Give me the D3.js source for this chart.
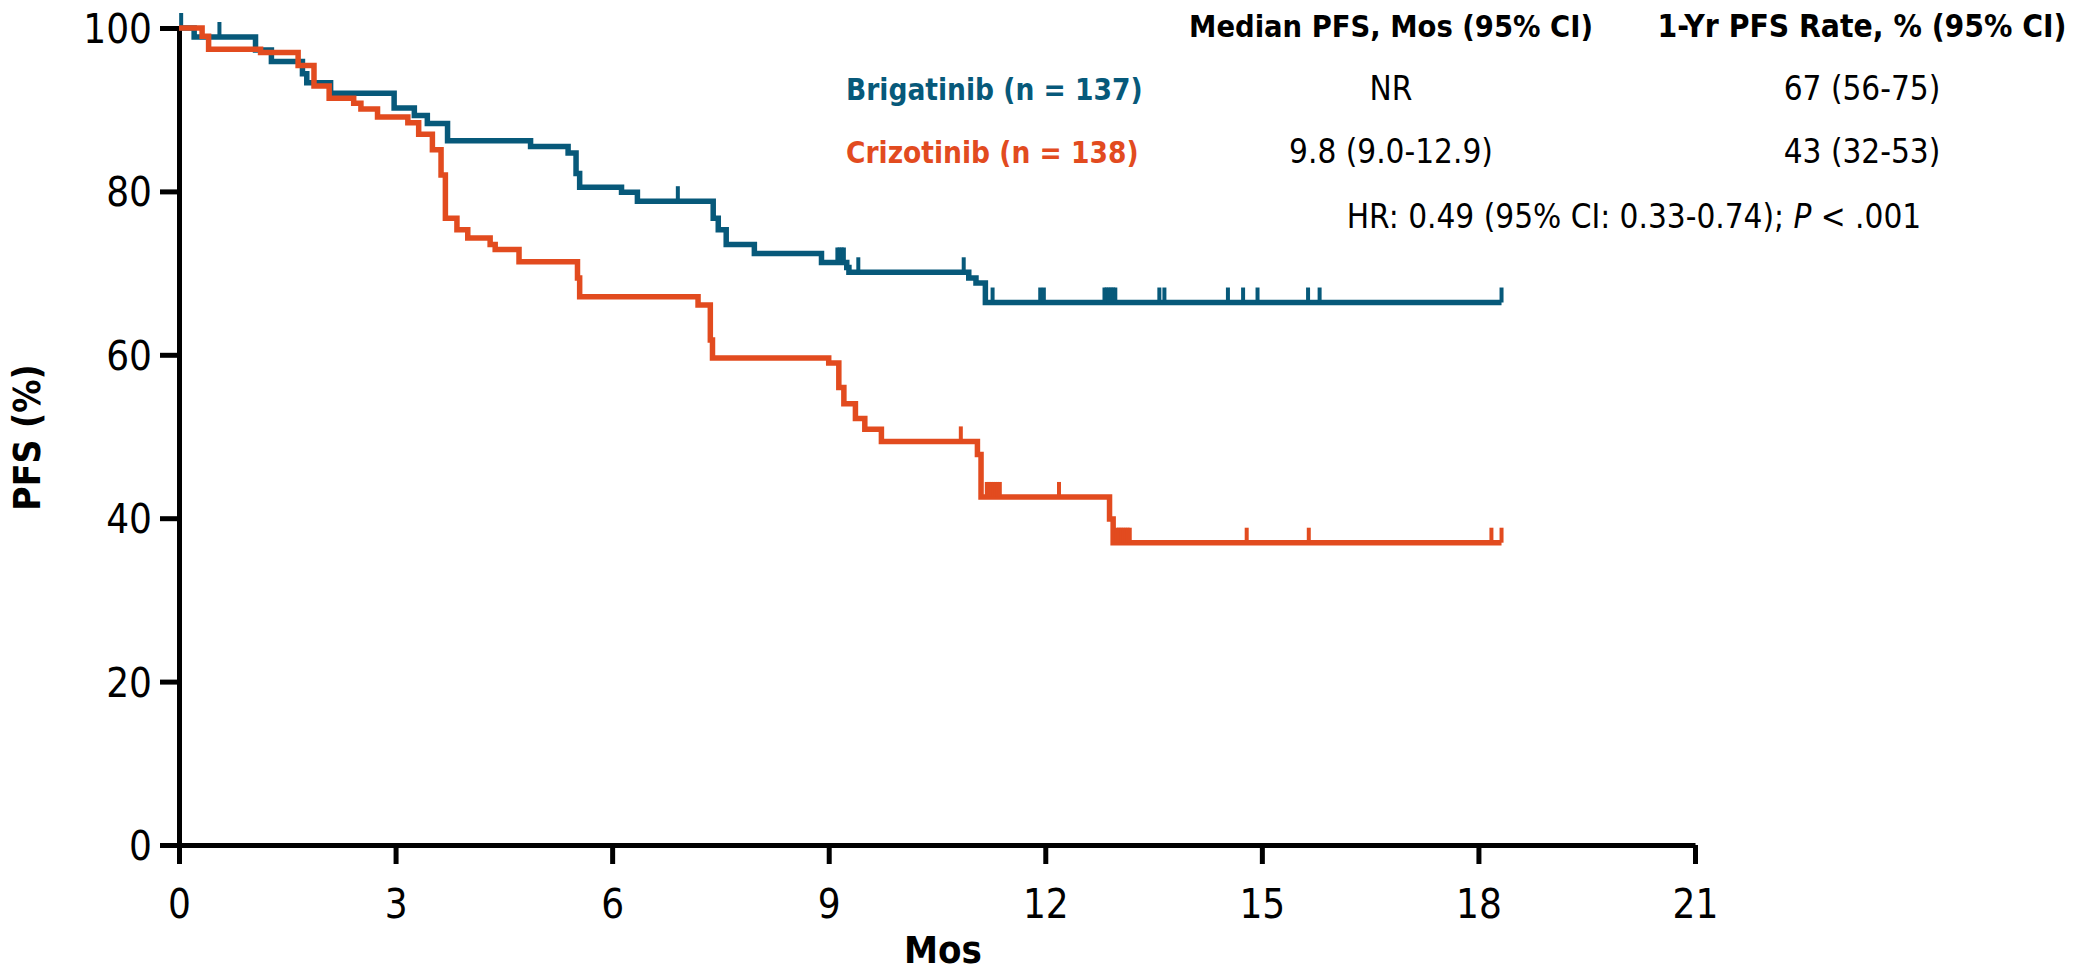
<!DOCTYPE html>
<html>
<head>
<meta charset="utf-8">
<script src="https://cdn.jsdelivr.net/npm/d3@7"></script>
<style>
  body { margin: 0; background: #fff; }
  svg text { font-family: "DejaVu Sans Condensed", "DejaVu Sans", sans-serif; font-stretch: condensed; }
</style>
</head>
<body>
<div id="chart"></div>
<script>
// x / y ticks
const xTicks = [0, 3, 6, 9, 12, 15, 18, 21];
const yTicks = [0, 20, 40, 60, 80, 100];

// Brigatinib: event times (mos) and survival after each step (%)
const brigTimes = [0, 0.21, 1.06, 1.28, 1.71, 1.77, 2.10, 2.98, 3.26, 3.44, 3.72, 4.87, 5.39, 5.50, 5.55,
  6.13, 6.35, 7.40, 7.47, 7.58, 7.97, 8.90, 9.25, 9.28, 10.94, 11.04, 11.17];
const brigSurv = [100, 98.9, 97.3, 95.9, 94.4, 93.3, 92.0, 90.2, 89.3, 88.3, 86.2, 85.5, 84.7, 82.2, 80.5,
  79.9, 78.8, 76.7, 75.3, 73.5, 72.4, 71.3, 70.7, 70.1, 69.4, 68.8, 66.4];
const brigCensor = [0.03, 0.56, 6.91, 9.12, 9.15, 9.18, 9.21, 9.41, 10.87, 11.27, 11.93, 11.98, 12.82, 12.85,
  12.88, 12.91, 12.94, 12.97, 13.58, 13.65, 14.53, 14.74, 14.94, 15.64, 15.80, 18.32];
const brigEnd = 18.32;

// Crizotinib
const crizTimes = [0, 0.32, 0.41, 1.13, 1.65, 1.87, 2.08, 2.42, 2.52, 2.75, 3.17, 3.32, 3.51, 3.63, 3.69,
  3.85, 4.00, 4.31, 4.38, 4.71, 5.52, 5.55, 7.19, 7.36, 7.39, 9.00, 9.14, 9.21, 9.37, 9.50, 9.73,
  11.06, 11.11, 12.89, 12.94];
const crizSurv = [100, 99.0, 97.4, 97.0, 95.4, 92.9, 91.4, 90.8, 90.1, 89.1, 88.4, 87.0, 85.1, 82.0, 76.7,
  75.3, 74.3, 73.5, 72.9, 71.4, 69.4, 67.1, 66.1, 61.8, 59.6, 59.0, 56.0, 54.0, 52.2, 50.9, 49.4,
  47.8, 42.6, 39.9, 37.0];
const crizCensor = [10.83, 11.19, 11.22, 11.25, 11.28, 11.31, 11.34, 11.37, 12.19, 12.99, 13.02, 13.05,
  13.08, 13.11, 13.14, 13.17, 14.79, 15.65, 18.18, 18.32];
const crizEnd = 18.32;

const blue = "#07597a";
const red = "#e24b1f";

const width = 2080, height = 972;
const svg = d3.select("#chart").append("svg")
  .attr("width", width)
  .attr("height", height);

const x = d3.scaleLinear().domain([0, 21]).range([179, 1695]);
const y = d3.scaleLinear().domain([0, 100]).range([845, 28]);

// axes
const xAxis = svg.append("g")
  .attr("transform", `translate(0,${y(0)})`)
  .call(d3.axisBottom(x).tickValues(xTicks).tickSize(19).tickSizeOuter(0).tickPadding(26));
const yAxis = svg.append("g")
  .attr("transform", `translate(${x(0)},0)`)
  .call(d3.axisLeft(y).tickValues(yTicks).tickSize(19).tickSizeOuter(0).tickPadding(8));

[xAxis, yAxis].forEach(a => {
  a.selectAll("path, line").attr("stroke", "#000").attr("stroke-width", 5);
  a.selectAll("text").attr("fill", "#000").style("font-size", "40px");
});
yAxis.selectAll("text").attr("dy", "0.36em");

function stepAt(times, surv, t) {
  let s = surv[0];
  for (let i = 0; i < times.length; i++) if (times[i] <= t) s = surv[i];
  return s;
}

function drawArm(times, surv, censor, end, color) {
  const pts = times.map((t, i) => [t, surv[i]]);
  pts.push([end, surv[surv.length - 1]]);
  const line = d3.line()
    .x(d => x(d[0]))
    .y(d => y(d[1]))
    .curve(d3.curveStepAfter);
  svg.append("path")
    .datum(pts)
    .attr("d", line)
    .attr("fill", "none")
    .attr("stroke", color)
    .attr("stroke-width", 5.5);
  svg.append("g").selectAll("line")
    .data(censor)
    .join("line")
    .attr("x1", d => x(d)).attr("x2", d => x(d))
    .attr("y1", d => y(stepAt(times, surv, d)))
    .attr("y2", d => y(stepAt(times, surv, d)) - 15)
    .attr("stroke", color)
    .attr("stroke-width", 4);
}

drawArm(brigTimes, brigSurv, brigCensor, brigEnd, blue);
drawArm(crizTimes, crizSurv, crizCensor, crizEnd, red);

// axis titles
svg.append("text")
  .attr("x", (x(0) + x(21)) / 2 + 6)
  .attr("y", 963)
  .attr("text-anchor", "middle")
  .style("font-size", "38px").style("font-weight", "bold")
  .text("Mos");
svg.append("text")
  .attr("transform", `translate(40,${y(50) + 1}) rotate(-90)`)
  .attr("text-anchor", "middle")
  .style("font-size", "37px").style("font-weight", "bold")
  .text("PFS (%)");

// table
const col1 = 1391, col2 = 1862;
const tbl = svg.append("g").style("font-size", "33px");
tbl.append("text").attr("x", col1).attr("y", 37).attr("text-anchor", "middle")
  .style("font-weight", "bold").style("font-size", "30.5px").text("Median PFS, Mos (95% CI)");
tbl.append("text").attr("x", col2).attr("y", 37).attr("text-anchor", "middle")
  .style("font-weight", "bold").style("font-size", "31.5px").text("1-Yr PFS Rate, % (95% CI)");
tbl.append("text").attr("x", 846).attr("y", 100).attr("fill", blue)
  .style("font-weight", "bold").style("font-size", "29.5px").text("Brigatinib (n = 137)");
tbl.append("text").attr("x", 846).attr("y", 163).attr("fill", red)
  .style("font-weight", "bold").style("font-size", "29.5px").text("Crizotinib (n = 138)");
tbl.append("text").attr("x", col1).attr("y", 100).attr("text-anchor", "middle").text("NR");
tbl.append("text").attr("x", col1).attr("y", 163).attr("text-anchor", "middle").text("9.8 (9.0-12.9)");
tbl.append("text").attr("x", col2).attr("y", 100).attr("text-anchor", "middle").text("67 (56-75)");
tbl.append("text").attr("x", col2).attr("y", 163).attr("text-anchor", "middle").text("43 (32-53)");
const hr = tbl.append("text").attr("x", 1634).attr("y", 228).attr("text-anchor", "middle");
hr.append("tspan").text("HR: 0.49 (95% CI: 0.33-0.74); ");
hr.append("tspan").style("font-style", "italic").text("P");
hr.append("tspan").text(" < .001");
</script>
</body>
</html>
